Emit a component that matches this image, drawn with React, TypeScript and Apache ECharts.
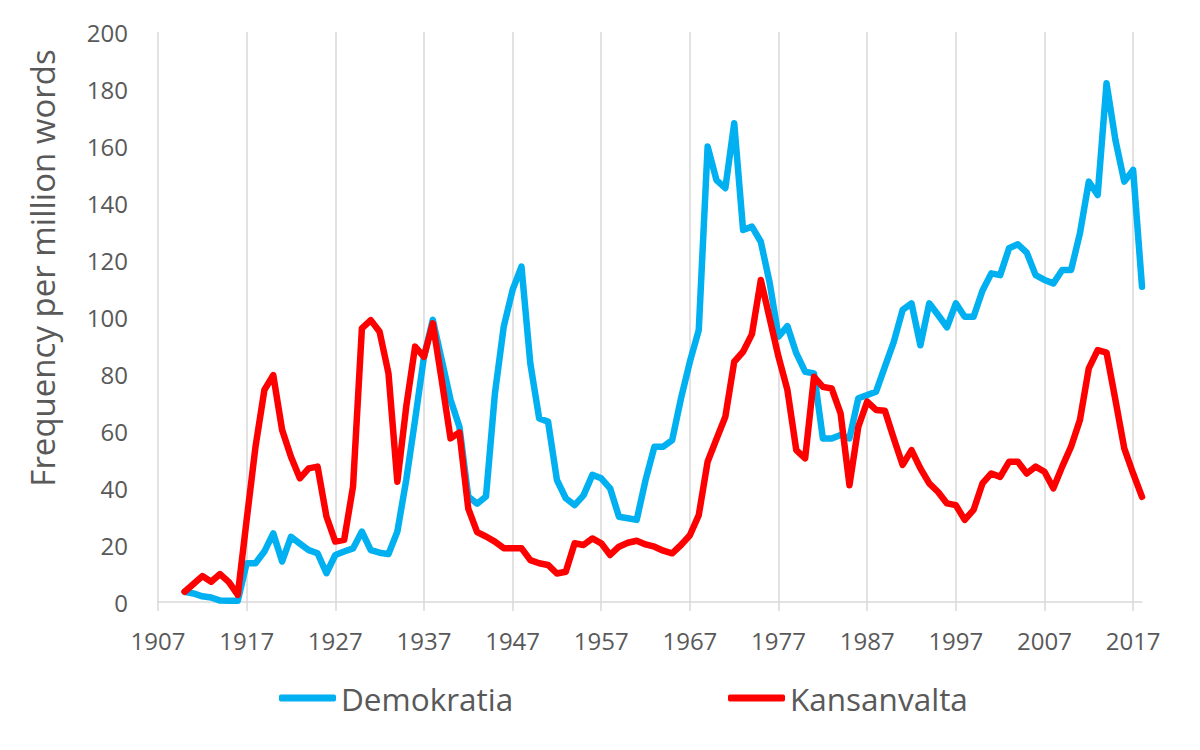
import React, { useEffect, useRef } from "react";
import * as echarts from "echarts";

const startYear = 1907;
const endYear = 2018;
const years: string[] = [];
for (let y = startYear; y <= endYear; y++) years.push(String(y));

// 1907–2018 (null before 1910)
const demokratia: (number | null)[] = [
  null, null, null,
  3.6, 3.0, 2.0, 1.6, 0.5, 0.4, 0.4, 13.6, 13.6, 17.7,
  24.1, 14.2, 22.9, 20.5, 18.2, 17.1, 10.1, 16.5, 17.7, 18.8,
  24.7, 18.2, 17.3, 16.8, 24.7, 42.8, 63.9, 86, 99, 85,
  71, 61.5, 37, 34.5, 37, 73, 96.6, 109.5, 117.7, 83.7,
  64.4, 63.3, 42.8, 36.4, 34, 37.4, 44.6, 43.4, 39.9, 29.9,
  29.4, 28.8, 42.8, 54.5, 54.5, 56.8, 71.5, 84.3, 95.4, 159.8,
  148, 145.2, 168, 130.5, 131.7, 126.4, 112, 93.1, 96.8, 87.3,
  80.8, 80.2, 57.4, 57.4, 58.6, 57.4, 71.5, 72.6, 73.8, 82.6,
  91.3, 102.5, 104.8, 90.1, 104.8, 100.7, 96.4, 104.8, 100.1, 100.1,
  109.2, 115.3, 114.7, 124.1, 125.5, 122.6, 114.7, 113, 111.8, 116.5,
  116.5, 129.4, 147.5, 142.8, 182, 162.1, 147.5, 151.6, 110.6,
];

const kansanvalta: (number | null)[] = [
  null, null, null,
  3.6, 6.3, 9.1, 7.1, 9.8, 7.0, 2.5, 28.8, 54.5, 74.4,
  79.6, 60.4, 51, 43.4, 46.9, 47.5, 30, 21.2, 21.8, 40.5,
  96, 98.9, 94.8, 80.2, 42.2, 68.5, 89.6, 86, 97.8, 77.9,
  57.4, 59.5, 32.8, 24.5, 23, 21.2, 18.9, 18.9, 18.9, 14.7,
  13.6, 13, 10, 10.6, 20.6, 20, 22.3, 20.6, 16.5, 19.4,
  20.8, 21.5, 20.2, 19.4, 18, 17.1, 20, 23.4, 30.5, 49.2,
  57.2, 65, 84.3, 87.8, 94, 113, 99.5, 86, 74.4, 53.3,
  50.4, 79, 75.5, 74.9, 66.2, 41, 61.5, 70.3, 67.4, 67.1,
  57.4, 48.1, 53.3, 46.9, 41.6, 38.6, 34.6, 34, 28.8, 32.3,
  41.6, 45.1, 43.9, 49.2, 49.2, 45.1, 47.5, 45.7, 39.9, 47.5,
  54.5, 63.9, 82, 88.4, 87.5, 70.9, 53.9, 45.1, 36.9,
];

const FONT = "Open Sans";
const TEXT = "#595959";
const GRID = "#d9d9d9";

export default function App() {
  const ref = useRef<HTMLDivElement>(null);
  useEffect(() => {
    document.body.style.margin = "0";
    if (!ref.current) return;
    const chart = echarts.init(ref.current, undefined, { renderer: "svg" });
    chart.setOption({
      animation: false,
      backgroundColor: "#ffffff",
      textStyle: { fontFamily: FONT, color: TEXT },
      grid: { left: 158, right: 58, top: 32, bottom: 148, containLabel: false },
      legend: [
        {
          data: ["Demokratia"],
          left: 279,
          top: 682,
          padding: 0,
          icon: "roundRect",
          itemWidth: 57,
          itemHeight: 7,
          textStyle: { fontFamily: FONT, fontSize: 31.5, color: TEXT },
        },
        {
          data: ["Kansanvalta"],
          left: 728,
          top: 682,
          padding: 0,
          icon: "roundRect",
          itemWidth: 57,
          itemHeight: 7,
          textStyle: { fontFamily: FONT, fontSize: 31.5, color: TEXT },
        },
      ],
      xAxis: {
        type: "category",
        data: years,
        boundaryGap: false,
        axisLine: { show: true, lineStyle: { color: GRID, width: 1.5 } },
        axisTick: { show: true, interval: 9, length: 9, lineStyle: { color: GRID, width: 1.5 } },
        axisLabel: { interval: 9, margin: 26, fontFamily: FONT, fontSize: 24, color: TEXT },
        splitLine: { show: true, interval: 9, lineStyle: { color: GRID, width: 1.5 } },
      },
      yAxis: {
        type: "value",
        min: 0,
        max: 200,
        interval: 20,
        axisLine: { show: false },
        axisTick: { show: false },
        splitLine: { show: false },
        axisLabel: { margin: 30, fontFamily: FONT, fontSize: 24, color: TEXT },
      },
      graphic: [
        {
          type: "text",
          x: 42,
          y: 268,
          rotation: Math.PI / 2,
          style: {
            text: "Frequency per million words",
            fontFamily: FONT,
            fontSize: 33,
            fill: TEXT,
            textAlign: "center",
            textVerticalAlign: "middle",
          },
        },
      ],
      series: [
        {
          name: "Demokratia",
          type: "line",
          data: demokratia,
          showSymbol: false,
          symbol: "none",
          itemStyle: { color: "#00B0F0" },
          lineStyle: { color: "#00B0F0", width: 6.5, join: "round", cap: "round" },
        },
        {
          name: "Kansanvalta",
          type: "line",
          data: kansanvalta,
          showSymbol: false,
          symbol: "none",
          itemStyle: { color: "#FF0000" },
          lineStyle: { color: "#FF0000", width: 6.5, join: "round", cap: "round" },
        },
      ],
    });
    return () => chart.dispose();
  }, []);
  return <div ref={ref} style={{ width: 1200, height: 750 }} />;
}
